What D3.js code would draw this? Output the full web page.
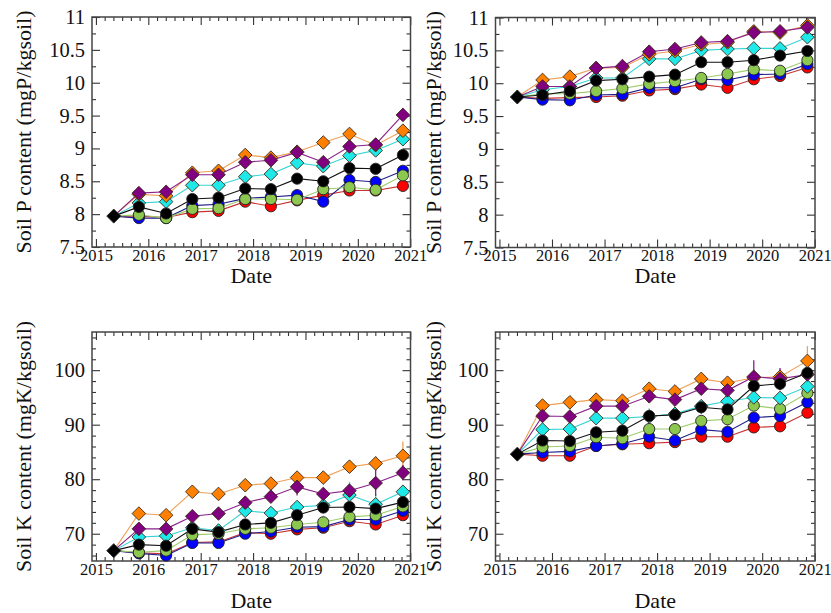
<!DOCTYPE html>
<html>
<head>
<meta charset="utf-8">
<script src="https://cdn.jsdelivr.net/npm/d3@7"></script>
<style>
  body { margin: 0; background: #fff; }
</style>
</head>
<body>
<svg id="chart" width="831" height="613"></svg>
<script>
// Sampling dates (decimal years); first date is the common starting value
const dates = [2015.34, 2015.82, 2016.34, 2016.84, 2017.34, 2017.85, 2018.34, 2018.84, 2019.34, 2019.84, 2020.34, 2020.86];
const years = [2015, 2016, 2017, 2018, 2019, 2020, 2021];

// Series order: red, blue, green, cyan, orange, purple, black (drawing order)
const seriesNames = ['red', 'blue', 'green', 'cyan', 'orange', 'purple', 'black'];
const fillColors = ['#ff0000', '#0000ff', '#8cc850', '#1fe8e8', '#ff8000', '#800080', '#000000'];
const lineColors = ['#c83232', '#1c1c8a', '#9ccc6a', '#38d4d4', '#eea055', '#8a208a', '#111111'];
const shapes = ['circle', 'circle', 'circle', 'diamond', 'diamond', 'diamond', 'circle'];

// Soil P, left panel
const pLeftInit = 7.97;
const pLeft = [
  [7.97, 7.95, 8.03, 8.05, 8.19, 8.12, 8.21, 8.29, 8.36, 8.36, 8.43],
  [7.94, 7.94, 8.13, 8.15, 8.24, 8.26, 8.29, 8.19, 8.52, 8.49, 8.66],
  [7.99, 7.94, 8.08, 8.09, 8.23, 8.23, 8.22, 8.38, 8.41, 8.37, 8.59],
  [8.17, 8.19, 8.44, 8.44, 8.57, 8.61, 8.78, 8.73, 8.89, 8.97, 9.14],
  [8.30, 8.28, 8.63, 8.66, 8.90, 8.86, 8.95, 9.09, 9.22, 9.05, 9.27],
  [8.32, 8.34, 8.60, 8.60, 8.79, 8.82, 8.94, 8.79, 9.03, 9.06, 9.51],
  [8.11, 8.01, 8.23, 8.25, 8.39, 8.38, 8.54, 8.50, 8.70, 8.69, 8.90]
];

// Soil P, right panel
const pRightInit = 9.79;
const pRight = [
  [9.77, 9.78, 9.79, 9.81, 9.89, 9.91, 9.98, 9.93, 10.06, 10.11, 10.24],
  [9.75, 9.74, 9.82, 9.83, 9.93, 9.93, 10.06, 10.05, 10.13, 10.14, 10.29],
  [9.84, 9.84, 9.88, 9.92, 9.99, 10.03, 10.08, 10.14, 10.21, 10.19, 10.35],
  [9.90, 9.95, 10.08, 10.08, 10.37, 10.37, 10.50, 10.52, 10.53, 10.53, 10.70],
  [10.05, 10.10, 10.23, 10.24, 10.44, 10.49, 10.59, 10.62, 10.79, 10.77, 10.88],
  [9.95, 9.95, 10.23, 10.26, 10.48, 10.52, 10.62, 10.64, 10.77, 10.79, 10.85],
  [9.82, 9.88, 10.04, 10.06, 10.10, 10.13, 10.32, 10.32, 10.35, 10.42, 10.49]
];

// Soil K, left panel
const kLeftInit = 66.9;
const kLeft = [
  [66.5, 66.3, 68.4, 68.5, 70.2, 70.0, 70.8, 71.1, 72.3, 71.7, 73.4],
  [66.4, 66.0, 68.3, 68.3, 70.0, 70.4, 71.2, 71.3, 72.6, 72.6, 74.2],
  [66.6, 66.9, 69.8, 70.0, 70.9, 71.1, 71.7, 72.1, 73.1, 73.4, 75.0],
  [69.4, 69.6, 71.1, 70.6, 74.2, 73.8, 74.9, 75.2, 77.1, 75.4, 77.7],
  [73.7, 73.4, 77.7, 77.3, 78.9, 79.2, 80.3, 80.3, 82.3, 82.9, 84.3],
  [70.9, 70.9, 73.2, 73.7, 75.7, 76.8, 78.6, 77.3, 77.9, 79.3, 81.2],
  [68.0, 67.8, 70.9, 70.3, 71.7, 72.0, 73.4, 74.8, 74.9, 74.6, 75.8]
];
const kLeftErr = [
  [0.4, 0.4, 0.5, 0.5, 0.5, 0.5, 0.6, 0.6, 0.7, 0.8, 0.8],
  [0.4, 0.4, 0.5, 0.5, 0.5, 0.6, 0.6, 0.6, 0.7, 0.7, 0.8],
  [0.4, 0.5, 0.5, 0.6, 0.6, 0.6, 0.7, 1.2, 0.8, 0.9, 0.9],
  [0.5, 0.6, 0.7, 0.8, 0.8, 0.9, 1.0, 1.0, 2.4, 1.9, 1.2],
  [0.6, 0.6, 0.8, 0.8, 0.9, 0.9, 1.0, 1.1, 1.2, 1.3, 2.6],
  [0.5, 0.6, 0.8, 0.8, 0.9, 1.0, 1.6, 1.1, 1.2, 2.4, 1.4],
  [0.5, 0.5, 0.6, 0.6, 0.6, 0.7, 0.8, 0.8, 0.9, 0.9, 1.0]
];

// Soil K, right panel
const kRightInit = 84.6;
const kRight = [
  [84.3, 84.3, 86.1, 86.4, 86.6, 86.8, 87.8, 87.8, 89.5, 89.7, 92.2],
  [84.9, 85.1, 86.1, 86.5, 87.8, 87.1, 89.1, 88.7, 91.3, 91.6, 94.1],
  [85.9, 86.1, 87.7, 87.5, 89.2, 89.2, 90.7, 91.0, 93.5, 92.9, 95.8],
  [89.1, 89.2, 91.2, 91.2, 91.5, 92.0, 93.4, 94.3, 95.0, 94.9, 97.0],
  [93.5, 94.1, 94.6, 94.4, 96.6, 96.1, 98.4, 97.7, 98.6, 98.8, 101.7],
  [91.6, 91.5, 93.4, 93.4, 95.2, 94.6, 96.6, 96.3, 98.8, 98.4, 99.2],
  [87.1, 87.0, 88.6, 88.9, 91.6, 91.8, 93.2, 92.8, 97.1, 97.5, 99.5]
];
const kRightErr = [
  [0.4, 0.4, 0.5, 0.5, 0.6, 0.6, 0.7, 0.7, 0.8, 0.8, 0.9],
  [0.5, 0.5, 0.6, 1.0, 0.7, 0.8, 0.8, 0.9, 0.9, 1.0, 1.0],
  [0.5, 0.5, 0.6, 0.6, 0.8, 0.8, 0.9, 1.6, 1.0, 1.0, 1.1],
  [0.6, 0.6, 0.7, 0.8, 1.5, 1.0, 1.0, 1.1, 1.2, 1.2, 1.3],
  [0.6, 0.6, 0.8, 0.8, 0.9, 1.0, 1.0, 1.1, 1.2, 1.3, 2.7],
  [0.6, 0.7, 0.8, 0.8, 0.9, 1.0, 1.1, 1.2, 3.0, 2.0, 1.4],
  [0.5, 0.6, 0.7, 0.8, 0.8, 0.9, 1.2, 1.4, 1.1, 1.2, 1.3]
];

const pMajor = [7.5, 8, 8.5, 9, 9.5, 10, 10.5, 11];
const pMinor = [7.75, 8.25, 8.75, 9.25, 9.75, 10.25, 10.75];
const kMajor = [70, 80, 90, 100];
const kMinor = [66, 68, 72, 74, 76, 78, 82, 84, 86, 88, 92, 94, 96, 98, 102, 104, 106];
const xMinor = d3.range(2015, 2021, 1 / 6).filter(v => Math.abs(v - Math.round(v)) > 0.01);

const serif = '"Liberation Serif", "Times New Roman", serif';
const svg = d3.select('#chart');
svg.append('rect').attr('width', 831).attr('height', 613).attr('fill', '#fff');

function diamond(h) {
  return `M0,${-h}L${h},0L0,${h}L${-h},0Z`;
}

function drawPanel(cfg) {
  const x = d3.scaleLinear().domain([2014.925, 2021.005]).range([cfg.left, cfg.right]);
  const y = d3.scaleLinear().domain(cfg.yDomain).range([cfg.bottom, cfg.top]);
  const g = svg.append('g');

  // inward ticks on all four sides
  const addAxis = (axis, tx, ty) => {
    const a = g.append('g').attr('transform', `translate(${tx},${ty})`).call(axis);
    a.attr('font-family', serif);
    a.select('.domain').remove();
    a.selectAll('line').attr('stroke', '#333').attr('stroke-width', 1.1);
    return a;
  };
  const bx = addAxis(d3.axisBottom(x).tickValues(years).tickSize(-8).tickPadding(2).tickFormat(d3.format('d')), 0, cfg.bottom);
  bx.selectAll('text').attr('font-size', 16.5).attr('fill', '#111').style('font-family', serif);
  addAxis(d3.axisBottom(x).tickValues(xMinor).tickSize(-4).tickFormat(''), 0, cfg.bottom);
  addAxis(d3.axisTop(x).tickValues(years).tickSize(-8).tickFormat(''), 0, cfg.top);
  addAxis(d3.axisTop(x).tickValues(xMinor).tickSize(-4).tickFormat(''), 0, cfg.top);

  const ly = addAxis(d3.axisLeft(y).tickValues(cfg.yMajor).tickSize(-8).tickPadding(7).tickFormat(d => String(d)), cfg.left, 0);
  ly.selectAll('text').attr('font-size', 20.5).attr('fill', '#111').style('font-family', serif);
  addAxis(d3.axisLeft(y).tickValues(cfg.yMinor).tickSize(-4).tickFormat(''), cfg.left, 0);
  addAxis(d3.axisRight(y).tickValues(cfg.yMajor).tickSize(-8).tickFormat(''), cfg.right, 0);
  addAxis(d3.axisRight(y).tickValues(cfg.yMinor).tickSize(-4).tickFormat(''), cfg.right, 0);

  g.append('rect')
    .attr('x', cfg.left).attr('y', cfg.top)
    .attr('width', cfg.right - cfg.left).attr('height', cfg.bottom - cfg.top)
    .attr('fill', 'none').attr('stroke', '#444').attr('stroke-width', 1.5);

  // series lines, all starting from the shared initial value
  const line = d3.line().x(d => x(d[0])).y(d => y(d[1]));
  cfg.values.forEach((vals, i) => {
    const pts = [[dates[0], cfg.init]].concat(vals.map((v, j) => [dates[j + 1], v]));
    g.append('path').datum(pts)
      .attr('fill', 'none').attr('stroke', lineColors[i]).attr('stroke-width', 1.1)
      .attr('d', line);
  });

  // error bars
  if (cfg.errors) {
    cfg.values.forEach((vals, i) => {
      g.selectAll(null).data(vals.map((v, j) => ({ d: dates[j + 1], v, e: cfg.errors[i][j] })))
        .join('line')
        .attr('x1', d => x(d.d)).attr('x2', d => x(d.d))
        .attr('y1', d => y(d.v - d.e)).attr('y2', d => y(d.v + d.e))
        .attr('stroke', lineColors[i]).attr('stroke-width', 1.3);
    });
  }

  // markers
  cfg.values.forEach((vals, i) => {
    const pts = vals.map((v, j) => [dates[j + 1], v]);
    if (shapes[i] === 'circle') {
      g.selectAll(null).data(pts).join('circle')
        .attr('cx', d => x(d[0])).attr('cy', d => y(d[1])).attr('r', 5.6)
        .attr('fill', fillColors[i]).attr('stroke', '#222').attr('stroke-width', 0.9);
    } else {
      g.selectAll(null).data(pts).join('path')
        .attr('transform', d => `translate(${x(d[0])},${y(d[1])})`)
        .attr('d', diamond(6.8))
        .attr('fill', fillColors[i]).attr('stroke', '#3a2a1a').attr('stroke-width', 0.9);
    }
  });
  g.append('path')
    .attr('transform', `translate(${x(dates[0])},${y(cfg.init)})`)
    .attr('d', diamond(7))
    .attr('fill', '#000').attr('stroke', '#222').attr('stroke-width', 0.9);

  // axis titles
  g.append('text')
    .attr('x', (cfg.left + cfg.right) / 2).attr('y', cfg.dateY)
    .attr('text-anchor', 'middle').attr('font-size', 22).attr('fill', '#111')
    .style('font-family', serif)
    .text('Date');
  const cy = (cfg.top + cfg.bottom) / 2;
  g.append('text')
    .attr('transform', `translate(${cfg.titleX},${cy}) rotate(-90)`)
    .attr('text-anchor', 'middle').attr('font-size', 22).attr('fill', '#111')
    .style('font-family', serif)
    .text(cfg.yTitle);
}

const pTitle = 'Soil P content (mgP/kgsoil)';
const kTitle = 'Soil K content (mgK/kgsoil)';

drawPanel({ left: 92, right: 410.5, top: 17, bottom: 247, yDomain: [7.5, 11], yMajor: pMajor, yMinor: pMinor,
  values: pLeft, init: pLeftInit, yTitle: pTitle, titleX: 31, dateY: 283 });
drawPanel({ left: 495.5, right: 815, top: 17.5, bottom: 247.5, yDomain: [7.5, 11], yMajor: pMajor, yMinor: pMinor,
  values: pRight, init: pRightInit, yTitle: pTitle, titleX: 441, dateY: 283 });
drawPanel({ left: 92, right: 410.5, top: 332, bottom: 561, yDomain: [65, 107], yMajor: kMajor, yMinor: kMinor,
  values: kLeft, init: kLeftInit, errors: kLeftErr, yTitle: kTitle, titleX: 31, dateY: 608 });
drawPanel({ left: 495.5, right: 815, top: 332, bottom: 561, yDomain: [65, 107], yMajor: kMajor, yMinor: kMinor,
  values: kRight, init: kRightInit, errors: kRightErr, yTitle: kTitle, titleX: 441, dateY: 608 });
</script>
</body>
</html>
